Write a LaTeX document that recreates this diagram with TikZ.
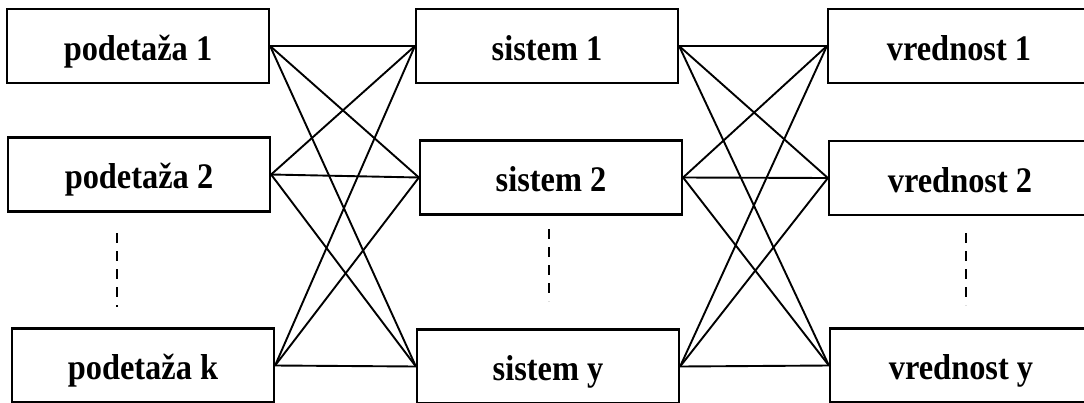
\documentclass[tikz,border=0pt]{standalone}
\usepackage{fontspec}
\setmainfont{Liberation Serif}
\newfontfamily\boxfont[FakeStretch=0.9]{Liberation Serif}
\usepackage{tikz}

\begin{document}
\begin{tikzpicture}[x=1pt,y=-1pt]
			\tikzset{box/.style={shape = rectangle, draw, line width = 2.2pt, inner sep = 0pt,
					minimum width = 262pt, minimum height = 74pt,
					text height = 28pt, text depth = 0pt,
					font = \boxfont\fontsize{36}{40}\selectfont\bfseries}}
			\tikzset{link/.style={line width = 1.9pt}}
			\tikzset{dots/.style={line width = 1.9pt, dash pattern = on 10pt off 8pt}}
			\useasboundingbox (0, 0) rectangle (1084, 402);
			\clip (0, 0) rectangle (1084, 402);
			%vertices
			\node[box] (p1) at (138, 46) {podetaža 1};
			\node[box] (p2) at (139, 174.5) {podetaža 2};
			\node[box] (pk) at (143, 365.5) {podetaža k};
			\node[box] (s1) at (547, 46) {sistem 1};
			\node[box] (s2) at (551, 177.5) {sistem 2};
			\node[box] (sy) at (548, 366.5) {sistem y};
			\node[box] (v1) at (959, 46) {vrednost 1};
			\node[box] (v2) at (960, 178) {vrednost 2};
			\node[box] (vy) at (961, 365.5) {vrednost y};
			%dots
			\coordinate (pa) at (117, 233);
			\coordinate (pb) at (117, 307);
			\coordinate (sa) at (549, 229);
			\coordinate (sb) at (549, 301);
			\coordinate (va) at (966, 233);
			\coordinate (vb) at (966, 305);
			\draw[dots] (pa) -- (pb);
			\draw[dots] (sa) -- (sb);
			\draw[dots] (va) -- (vb);
			%edges
			\path (p1.east) edge[link] (s1.west) edge[link] (s2.west) edge[link] (sy.west);
			\path (p2.east) edge[link] (s1.west) edge[link] (s2.west) edge[link] (sy.west);
			\path (pk.east) edge[link] (s1.west) edge[link] (s2.west) edge[link] (sy.west);
			\path (s1.east) edge[link] (v1.west) edge[link] (v2.west) edge[link] (vy.west);
			\path (s2.east) edge[link] (v1.west) edge[link] (v2.west) edge[link] (vy.west);
			\path (sy.east) edge[link] (v1.west) edge[link] (v2.west) edge[link] (vy.west);
\end{tikzpicture}
\end{document}
